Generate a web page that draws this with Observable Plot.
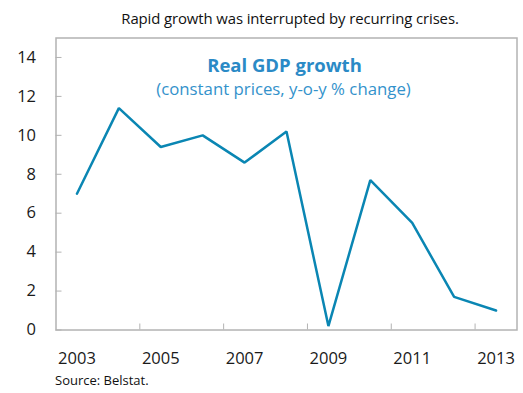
<!DOCTYPE html>
<html>
<head>
<meta charset="utf-8">
<script src="https://cdn.jsdelivr.net/npm/d3@7"></script>
<script src="https://cdn.jsdelivr.net/npm/@observablehq/plot@0.6"></script>
<style>
  body { margin: 0; background: #fff; font-family: "Open Sans", sans-serif; }
  #wrap { width: 523px; position: relative; }
  #title { height: 30px; line-height: 36px; font-size: 14.9px; color: #111; text-align: center; padding-left: 57px; box-sizing: border-box; width: 523px; white-space: nowrap; letter-spacing: -0.1px; }
  #source { font-size: 13px; color: #111; padding-left: 55px; margin-top: -4px; }
  svg { display: block; }
</style>
</head>
<body>
<div id="wrap">
  <div id="title">Rapid growth was interrupted by recurring crises.</div>
  <div id="chart"></div>
  <div id="source">Source: Belstat.</div>
</div>
<script>
const years = [2003, 2004, 2005, 2006, 2007, 2008, 2009, 2010, 2011, 2012, 2013];
const growth = [7.0, 11.4, 9.4, 10.0, 8.6, 10.2, 0.2, 7.7, 5.5, 1.7, 1.0];
const yTicks = [0, 2, 4, 6, 8, 10, 12, 14];
const xLabelYears = [2003, 2005, 2007, 2009, 2011, 2013];
const chartTitle = "Real GDP growth";
const chartSubtitle = "(constant prices, y-o-y % change)";

const data = years.map((year, i) => ({year, value: growth[i]}));
const xTickMarks = xLabelYears.slice(1).map(y => y - 0.5);

const plot = Plot.plot({
  width: 523,
  height: 345,
  marginLeft: 55.5,
  marginRight: 6.5,
  marginTop: 7.5,
  marginBottom: 45.5,
  style: {fontFamily: "Open Sans, sans-serif", fontSize: "16px", color: "#1a1a1a", background: "#fff"},
  x: {domain: [years[0] - 0.5, years[years.length - 1] + 0.5]},
  y: {domain: [0, 15]},
  marks: [
    Plot.axisY({ticks: yTicks, tickSize: -6, tickFormat: () => "", stroke: "#b3b3b3", label: null}),
    Plot.axisY({ticks: yTicks, tickSize: 0, tickPadding: 20, fontSize: 16.5, label: null}),
    Plot.axisX({ticks: xTickMarks, tickSize: -6, tickFormat: () => "", stroke: "#b3b3b3", label: null}),
    Plot.axisX({ticks: xLabelYears, tickSize: 0, tickPadding: 22, tickFormat: d => String(d), fontSize: 16.5, label: null}),
    Plot.frame({stroke: "#b3b3b3", strokeWidth: 1.5}),
    Plot.text([chartTitle], {frameAnchor: "top", dx: -2, dy: 20.5, fontWeight: "bold", fontSize: 18.5, fill: "#2a8ac6"}),
    Plot.text([chartSubtitle], {frameAnchor: "top", dx: -3, dy: 45.5, fontSize: 16.8, fill: "#3392cb"}),
    Plot.line(data, {x: "year", y: "value", stroke: "#0a86b3", strokeWidth: 2.5, strokeLinejoin: "miter"})
  ]
});
document.getElementById("chart").appendChild(plot);
</script>
</body>
</html>
